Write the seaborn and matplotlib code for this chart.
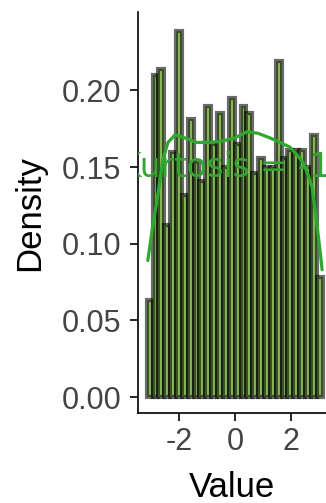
import numpy as np
import pandas as pd
import matplotlib
matplotlib.use("Agg")
import matplotlib.pyplot as plt
import seaborn as sns

# ---- data ----
bin_edges = np.linspace(-3.15, 3.13, 31)
density_heights = [0.063, 0.210, 0.214, 0.112, 0.160, 0.239, 0.132, 0.181, 0.153, 0.141,
                   0.190, 0.165, 0.185, 0.150, 0.195, 0.165, 0.190, 0.185, 0.146, 0.156,
                   0.150, 0.150, 0.219, 0.156, 0.161, 0.161, 0.161, 0.150, 0.171, 0.078]
kde_x = [-3.11, -2.93, -2.79, -2.68, -2.57, -2.39, -2.14, -1.79, -1.36, -0.89, -0.43, 0.0,
         0.43, 0.82, 1.25, 1.61, 1.96, 2.21, 2.43, 2.61, 2.75, 2.89, 3.04, 3.11]
kde_y = [0.089, 0.112, 0.127, 0.141, 0.155, 0.166, 0.171, 0.169, 0.166, 0.166, 0.167, 0.169,
         0.173, 0.172, 0.169, 0.166, 0.163, 0.158, 0.153, 0.145, 0.137, 0.118, 0.095, 0.083]
annotation = "Kurtosis = -1.2"
y_ticks = [0.00, 0.05, 0.10, 0.15, 0.20]
x_ticks = [-2, 0, 2]

centers = (bin_edges[:-1] + bin_edges[1:]) / 2
hist_df = pd.DataFrame({"Value": centers, "Density": density_heights})
kde_df = pd.DataFrame({"Value": kde_x, "Density": kde_y})

sns.set_style("ticks")
plt.rcParams["font.family"] = ["Liberation Sans", "DejaVu Sans"]
plt.rcParams["axes.unicode_minus"] = False

fig = plt.figure(figsize=(3.26, 5.03), dpi=100)
ax = fig.add_axes([0.4233, 0.1789, 0.5767, 0.797])

sns.histplot(data=hist_df, x="Value", weights="Density", bins=[float(b) for b in bin_edges],
             stat="count", facecolor="#8dbf5f", edgecolor=(0, 0, 0, 0.58), linewidth=3.0, ax=ax)
sns.lineplot(data=kde_df, x="Value", y="Density", color="#2fa82f", linewidth=2.3, ax=ax,
             zorder=4)

ax.text(0.22, 0.1434, annotation, ha="center", va="baseline", fontsize=23.5,
        family="DejaVu Sans", color="#33a532", clip_on=True, zorder=5)

ax.set_xlim(-3.46, 3.25)
ax.set_ylim(-0.0104, 0.251)
ax.set_yticks(y_ticks)
ax.set_yticklabels([f"{v:.2f}" for v in y_ticks])
ax.set_xticks(x_ticks)
ax.set_xticklabels([str(v) for v in x_ticks])

sns.despine(ax=ax)
for s in ["left", "bottom"]:
    ax.spines[s].set_linewidth(1.2)
    ax.spines[s].set_color("black")
ax.tick_params(axis="both", length=6, width=1.2, color="black", labelsize=22,
               labelcolor="#444444")
ax.tick_params(axis="y", pad=6)
ax.tick_params(axis="x", pad=4)

ax.set_xlabel("Value", fontsize=25, color="black")
ax.set_ylabel("Density", fontsize=25, color="black")
ax.xaxis.set_label_coords(0.5, -0.145)
ax.yaxis.set_label_coords(-0.49, 0.5)

fig.savefig("out.png", dpi=100)
